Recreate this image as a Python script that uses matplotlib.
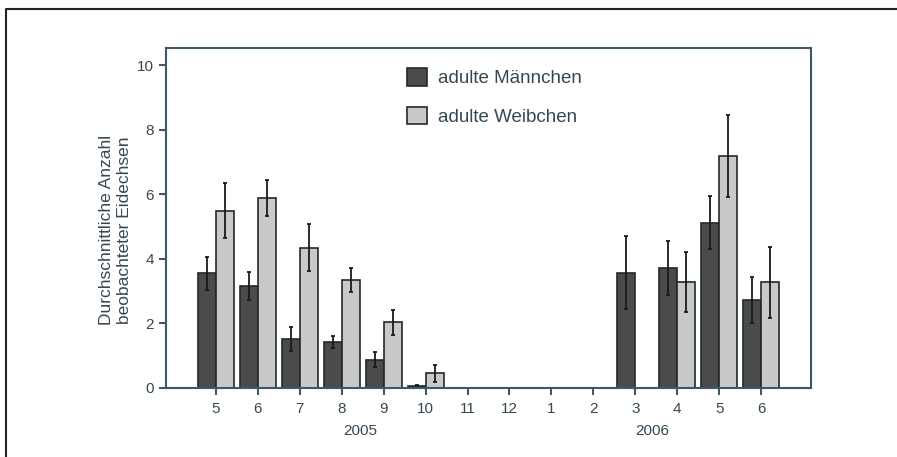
import matplotlib
matplotlib.use('Agg')
import matplotlib.pyplot as plt
from matplotlib.lines import Line2D
from matplotlib.patches import Patch
import numpy as np

plt.rcParams['font.family'] = ['Liberation Sans', 'DejaVu Sans']

# months on the x axis (May 2005 .. June 2006)
months = ['5', '6', '7', '8', '9', '10', '11', '12', '1', '2', '3', '4', '5', '6']
years = ['2005', '2006']

# mean counts and error (0 = no bar)
males = [3.55, 3.17, 1.52, 1.43, 0.87, 0.07, 0, 0, 0, 0, 3.57, 3.72, 5.12, 2.72]
males_err = [0.5, 0.43, 0.38, 0.18, 0.23, 0.03, 0, 0, 0, 0, 1.13, 0.83, 0.83, 0.72]
females = [5.49, 5.89, 4.35, 3.34, 2.03, 0.45, 0, 0, 0, 0, 0, 3.27, 7.19, 3.27]
females_err = [0.85, 0.55, 0.72, 0.38, 0.38, 0.26, 0, 0, 0, 0, 0, 0.93, 1.26, 1.1]

spine_col = '#3a5a68'
text_col = '#354852'
edge_col = '#1e2a30'

fig = plt.figure(figsize=(8.97, 4.57), dpi=100)
ax = fig.add_axes([0.1851, 0.151, 0.719, 0.744])

x = np.arange(len(months))
w = 0.43
m_show = [i for i in x if males[i] > 0]
f_show = [i for i in x if females[i] > 0]

ax.bar([i - w / 2 for i in m_show], [males[i] for i in m_show], width=w,
       color='#4b4b4b', edgecolor=edge_col, linewidth=1.2,
       yerr=[males_err[i] for i in m_show], capsize=1.5,
       error_kw=dict(ecolor='#1a1a1a', elinewidth=1.3, capthick=1.3))
ax.bar([i + w / 2 for i in f_show], [females[i] for i in f_show], width=w,
       color='#c9c9c9', edgecolor=edge_col, linewidth=1.2,
       yerr=[females_err[i] for i in f_show], capsize=1.5,
       error_kw=dict(ecolor='#1a1a1a', elinewidth=1.3, capthick=1.3))

ax.set_xlim(-1.19, 14.19)
ax.set_ylim(0, 10.53)
ax.set_xticks(x)
ax.set_xticklabels(months)
ax.set_yticks([0, 2, 4, 6, 8, 10])

for s in ax.spines.values():
    s.set_color(spine_col)
    s.set_linewidth(1.5)
ax.tick_params(colors=spine_col, labelcolor=text_col, labelsize=11,
               width=1.5, length=5)
ax.tick_params(axis='x', pad=5)

ax.set_ylabel('Durchschnittliche Anzahl\nbeobachteter Eidechsen',
              fontsize=12.5, color=text_col, linespacing=1.3)
ax.yaxis.set_label_coords(-0.052, 0.465)

ax.text(3.45, -0.105, years[0], transform=ax.get_xaxis_transform(),
        ha='center', va='top', fontsize=11, color=text_col)
ax.text(10.4, -0.105, years[1], transform=ax.get_xaxis_transform(),
        ha='center', va='top', fontsize=11, color=text_col)

handles = [Patch(facecolor='#4b4b4b', edgecolor=edge_col, linewidth=1.2),
           Patch(facecolor='#c9c9c9', edgecolor=edge_col, linewidth=1.2)]
leg = ax.legend(handles, ['adulte Männchen', 'adulte Weibchen'],
                loc='upper left', bbox_to_anchor=(0.348, 0.99),
                frameon=False, fontsize=13.5, handlelength=1.05,
                handleheight=1.05, labelspacing=1.05, handletextpad=0.6)
for t in leg.get_texts():
    t.set_color(text_col)

# outer frame (left and top lines)
fig.add_artist(Line2D([6 / 897, 6 / 897, 1.0], [0, 1 - 9 / 457, 1 - 9 / 457],
                      transform=fig.transFigure, color='#222222', linewidth=1.5))

fig.savefig('out.png', dpi=100)
